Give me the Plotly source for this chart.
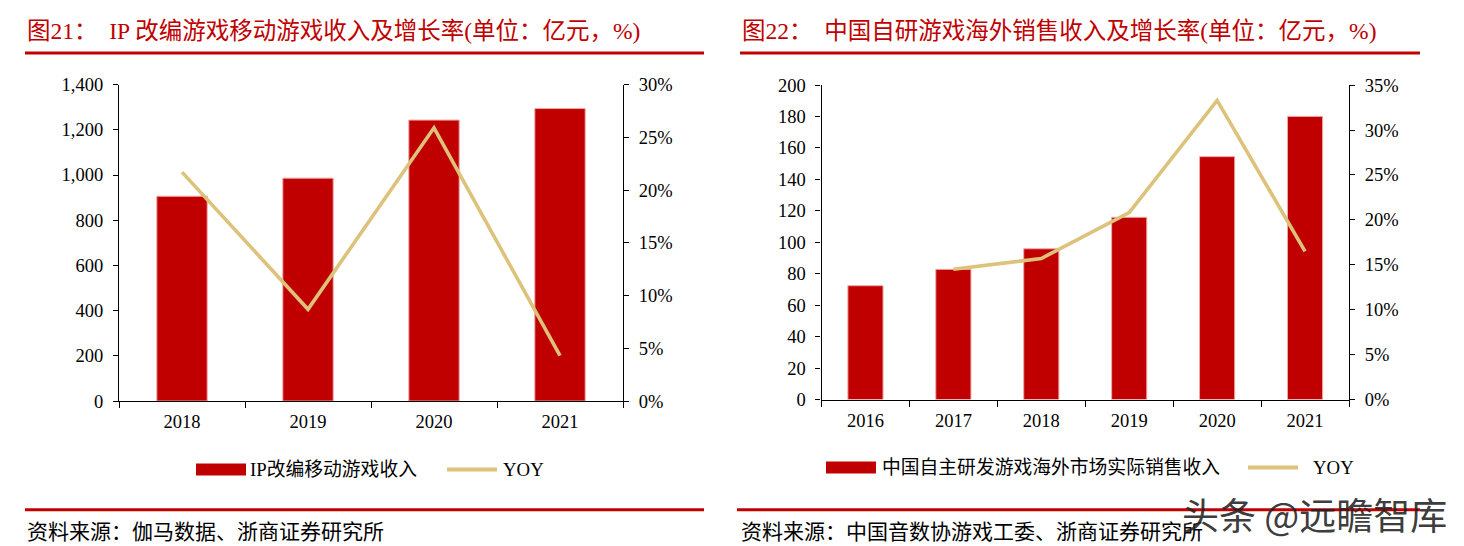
import plotly.graph_objects as go

# ---------------- data ----------------
years_a = ["2018", "2019", "2020", "2021"]
revenue_a = [906, 986, 1243, 1294]          # 亿元
yoy_a = [0.217, 0.087, 0.259, 0.043]

years_b = ["2016", "2017", "2018", "2019", "2020", "2021"]
revenue_b = [72.4, 82.8, 95.9, 115.9, 154.5, 180.1]   # 亿元
yoy_b = [None, 0.145, 0.157, 0.208, 0.333, 0.165]

title_a = "图21：  IP 改编游戏移动游戏收入及增长率(单位：亿元，%)"
title_b = "图22：  中国自研游戏海外销售收入及增长率(单位：亿元，%)"
legend_bar_a = "IP改编移动游戏收入"
legend_bar_b = "中国自主研发游戏海外市场实际销售收入"
legend_line = "YOY"
source_a = "资料来源：伽马数据、浙商证券研究所"
source_b = "资料来源：中国音数协游戏工委、浙商证券研究所"
watermark = "头条 @远瞻智库"

# ---------------- style ----------------
W, H = 1464, 560
OFF, SC = 9.0, 0.963      # observed vertical placement of the page in the photo
RED = "#C00000"
GOLD = "#DCC27A"
SERIF = "Liberation Serif, 'Times New Roman', 'Noto Sans CJK SC', serif"


def px(x):
    return x / W


def py(y):
    return 1 - ((y - OFF) / SC) / H


fig = go.Figure()

fig.add_trace(go.Bar(x=years_a, y=revenue_a, xaxis="x", yaxis="y", width=0.4,
                     marker=dict(color=RED, line=dict(color="#F2A8A8", width=1)),
                     name=legend_bar_a, showlegend=False))
fig.add_trace(go.Scatter(x=years_a, y=yoy_a, xaxis="x", yaxis="y2", mode="lines",
                         line=dict(color=GOLD, width=3.6), name=legend_line,
                         showlegend=False))
fig.add_trace(go.Bar(x=years_b, y=revenue_b, xaxis="x2", yaxis="y3", width=0.4,
                     marker=dict(color=RED, line=dict(color="#F2A8A8", width=1)),
                     name=legend_bar_b, showlegend=False))
fig.add_trace(go.Scatter(x=years_b, y=yoy_b, xaxis="x2", yaxis="y4", mode="lines",
                         line=dict(color=GOLD, width=3.6), name=legend_line,
                         showlegend=False, connectgaps=False))

tickfont = dict(family=SERIF, size=18.5, color="#000")
common_y = dict(showgrid=False, zeroline=False, showline=True, linecolor="#000",
                linewidth=1.2, ticks="outside", ticklen=5, tickcolor="#000",
                tickfont=tickfont, fixedrange=True, ticklabelstandoff=6)
common_x = dict(type="category", showgrid=False, zeroline=False, showline=True,
                linecolor="#000", linewidth=1.2, ticks="outside", ticklen=6,
                tickcolor="#000", tickson="boundaries", tickfont=tickfont,
                fixedrange=True, ticklabelstandoff=4)

dom_a = [py(399.5), py(83.5)]
dom_b = [py(398), py(84)]

fig.update_layout(
    width=W, height=H, margin=dict(l=0, r=0, t=0, b=0, pad=0), autosize=False,
    paper_bgcolor="white", plot_bgcolor="white", showlegend=False,
    xaxis=dict(domain=[px(119), px(623)], anchor="y", range=[-0.5, 3.5], **common_x),
    yaxis=dict(domain=dom_a, anchor="x", range=[0, 1400], dtick=200,
               tickformat=",", **common_y),
    yaxis2=dict(overlaying="y", anchor="x", side="right", range=[0, 0.30],
                dtick=0.05, tickformat=".0%", **common_y),
    xaxis2=dict(domain=[px(821.5), px(1349)], anchor="y3", range=[-0.5, 5.5], **common_x),
    yaxis3=dict(domain=dom_b, anchor="x2", range=[0, 200], dtick=20, **common_y),
    yaxis4=dict(overlaying="y3", anchor="x2", side="right", range=[0, 0.35],
                dtick=0.05, tickformat=".0%", **common_y),
)

shapes = []
annotations = []

for x0, x1, y in [(25, 704, 52), (740, 1420, 52), (25, 704, 508), (737, 1420, 508)]:
    shapes.append(dict(type="line", xref="paper", yref="paper", x0=px(x0), x1=px(x1),
                       y0=py(y), y1=py(y), line=dict(color=RED, width=3)))

for x, t in [(25, title_a), (740, title_b)]:
    annotations.append(dict(text=t, xref="paper", yref="paper", x=px(x), y=py(30),
                            xanchor="left", yanchor="middle", showarrow=False,
                            font=dict(family=SERIF, size=23.5, color=RED)))

for x, t in [(25, source_a), (739, source_b)]:
    annotations.append(dict(text=t, xref="paper", yref="paper", x=px(x), y=py(530),
                            xanchor="left", yanchor="middle", showarrow=False,
                            font=dict(family=SERIF, size=21, color="#000")))

leg_font = dict(family=SERIF, size=18.8, color="#000")
for (rx0, rx1, ry, tx1, lx0, lx1, tx2, lab) in [
        (196, 246, 468, 248, 447, 497, 501, legend_bar_a),
        (826, 876, 466, 880, 1248, 1298, 1311, legend_bar_b)]:
    shapes.append(dict(type="rect", xref="paper", yref="paper", x0=px(rx0), x1=px(rx1),
                       y0=py(ry + 6), y1=py(ry - 6), fillcolor=RED, line=dict(width=0)))
    shapes.append(dict(type="line", xref="paper", yref="paper", x0=px(lx0), x1=px(lx1),
                       y0=py(ry), y1=py(ry), line=dict(color=GOLD, width=4)))
    annotations.append(dict(text=lab, xref="paper", yref="paper", x=px(tx1), y=py(ry),
                            xanchor="left", yanchor="middle", showarrow=False, font=leg_font))
    annotations.append(dict(text=legend_line, xref="paper", yref="paper", x=px(tx2), y=py(ry),
                            xanchor="left", yanchor="middle", showarrow=False, font=leg_font))

annotations.append(dict(text=watermark, xref="paper", yref="paper", x=px(1314), y=py(512),
                        xanchor="center", yanchor="middle", showarrow=False,
                        font=dict(family="'Noto Sans CJK SC', sans-serif", size=37,
                                  color="rgba(35,35,35,0.9)")))

fig.update_layout(shapes=shapes, annotations=annotations)

fig.write_html("out.html", config={"displayModeBar": False},
               post_script="document.body.style.margin='0';document.body.style.overflow='hidden';")
